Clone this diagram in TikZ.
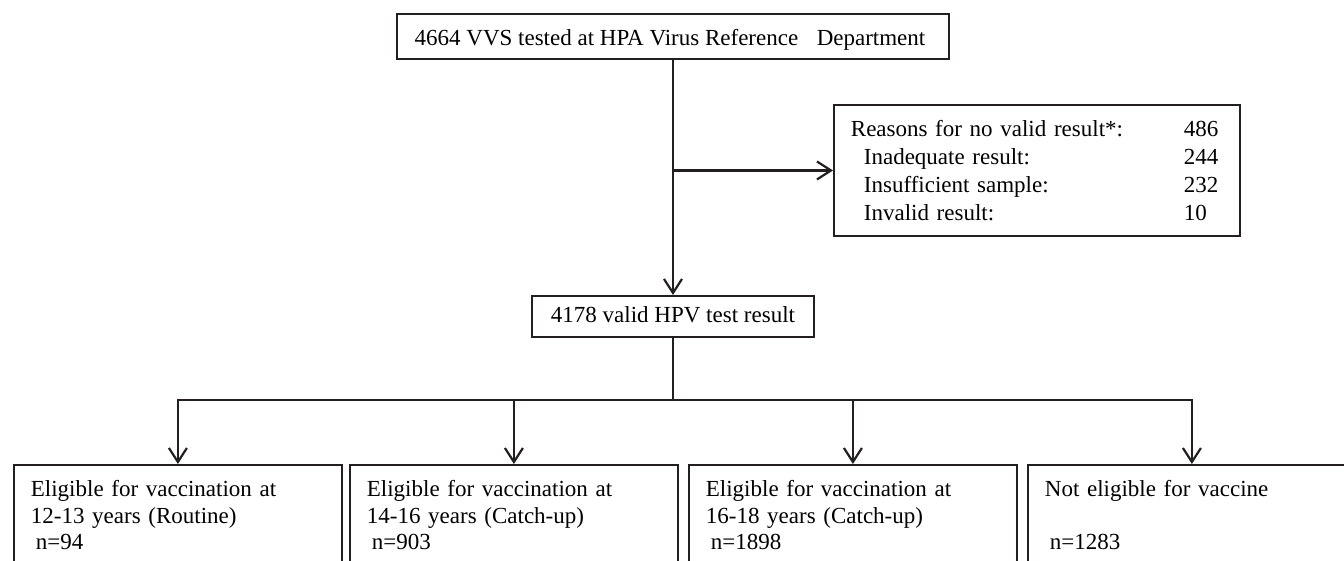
\documentclass[tikz,border=0pt]{standalone}
\usepackage{fontspec}
\setmainfont{Liberation Serif}
\usetikzlibrary{arrows.meta}
\definecolor{ink}{RGB}{35,31,32}
\begin{document}
\begin{tikzpicture}[x=1pt,y=-1pt,
  boxline/.style={draw=ink, line width=1.8pt},
  conn/.style={draw=ink, line width=2.2pt},
  arr/.style={conn, -{Straight Barb[length=14pt,width=18pt]}},
  onebox/.style={boxline, anchor=north, inner xsep=0pt, inner ysep=0pt, font=\fontsize{23}{28}\selectfont},
  bottombox/.style={boxline, anchor=north west, align=left, text width=294pt, inner xsep=17pt, inner ysep=15.3pt, font=\fontsize{23}{26.7}\selectfont},
  reasonbox/.style={boxline, anchor=north west, align=left, text width=372pt, inner xsep=17pt, inner ysep=15.3pt, font=\fontsize{23}{28}\selectfont}]
\fill[white] (0,0) rectangle (1344,560);
\clip (0,0) rectangle (1344,560);

\node[onebox, minimum width=552pt, text height=32pt, text depth=13pt] (top) at (673,13)
  {4664 VVS tested at HPA Virus Reference\hspace{18.5pt}Department\hspace*{6pt}};

\node[reasonbox] (reasons) at (833,104)
  {\makebox[333pt][l]{Reasons for no valid result*:}486\\
   \hspace*{13pt}\makebox[320pt][l]{Inadequate result:}244\\
   \hspace*{13pt}\makebox[320pt][l]{Insufficient sample:}232\\
   \hspace*{13pt}\makebox[320pt][l]{Invalid result:}10};

\node[onebox, minimum width=282pt, text height=27pt, text depth=14pt] (valid) at (673,295)
  {4178 valid HPV test result};

\node[bottombox] (b1) at (13,464)
  {Eligible for vaccination at\\12-13 years (Routine)\\\hspace*{5pt}n=94\rule[-12pt]{0pt}{12pt}};
\node[bottombox] (b2) at (349,464)
  {Eligible for vaccination at\\14-16 years (Catch-up)\\\hspace*{5pt}n=903\rule[-12pt]{0pt}{12pt}};
\node[bottombox] (b3) at (688,464)
  {Eligible for vaccination at\\16-18 years (Catch-up)\\\hspace*{5pt}n=1898\rule[-12pt]{0pt}{12pt}};
\node[bottombox] (b4) at (1027,464)
  {Not eligible for vaccine\\\mbox{}\\\hspace*{5pt}n=1283\rule[-12pt]{0pt}{12pt}};

\draw[arr] (top.south) -- (valid.north);
\draw[arr] (top.south |- reasons.west) -- (reasons.west);
\coordinate (bar) at (673,400);
\draw[conn] (valid.south) -- (bar);
\draw[conn, line cap=rect] (b1.north |- bar) -- (b4.north |- bar);
\foreach \b in {b1,b2,b3,b4} \draw[arr] (\b.north |- bar) -- (\b.north);
\end{tikzpicture}
\end{document}
